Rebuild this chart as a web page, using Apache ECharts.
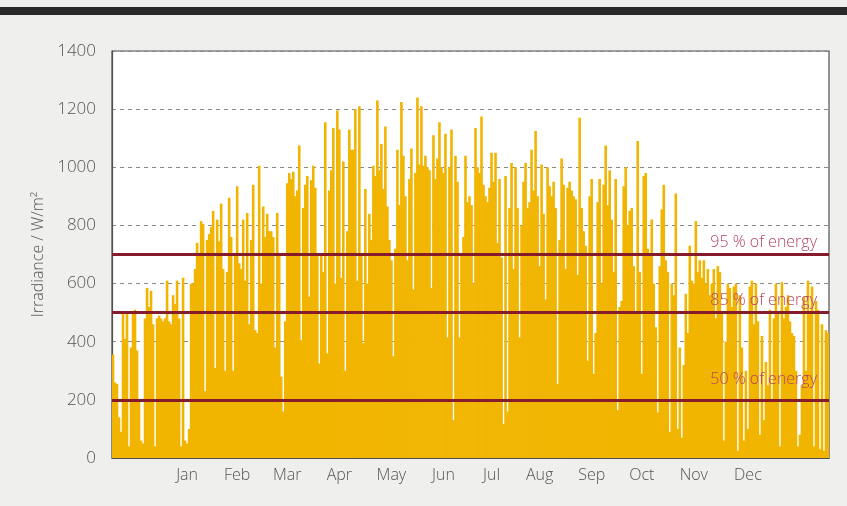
<!DOCTYPE html>
<html>
<head>
<meta charset="utf-8">
<script src="https://cdn.jsdelivr.net/npm/echarts@6/dist/echarts.min.js"></script>
<style>
html,body{margin:0;padding:0;background:#efefee;}
#chart{width:847px;height:506px;}
</style>
</head>
<body>
<div id="chart"></div>
<script>
// Irradiance values (W/m²), one bar per ~2 px column left to right
var irradiance = [
356,260,255,140,90,500,410,505,40,380,
505,510,370,200,60,50,480,585,520,575,
460,40,480,490,480,470,480,610,470,460,
560,530,610,480,40,620,60,50,100,600,
600,650,740,700,815,805,230,750,770,795,
850,310,820,745,875,650,300,640,895,760,
300,700,935,670,650,820,610,843,460,750,
940,440,430,1005,600,865,760,840,780,780,
760,380,843,700,280,160,470,945,980,960,
985,900,920,1075,405,860,940,970,555,955,
1005,930,700,325,700,640,1155,360,920,990,
1135,600,1195,1130,620,1020,300,780,1130,1060,
1060,1200,610,1210,700,395,925,600,840,750,
1005,970,1230,990,1080,925,1140,865,750,680,
350,720,1060,870,1225,1040,900,680,960,1065,
580,980,1240,1010,1210,1005,1040,1000,990,585,
1110,960,1030,1155,1000,980,1115,415,1000,1130,
130,1040,950,415,700,760,1040,880,900,870,
600,1135,1000,980,1175,940,900,880,930,1050,
950,1050,740,960,690,117,970,160,860,1015,
650,1000,860,415,800,950,1015,860,880,1060,
920,1125,900,660,1010,840,545,1000,935,900,
950,860,255,750,1030,940,650,930,950,920,
900,890,630,1170,860,780,730,335,900,960,
290,430,880,960,600,940,1075,870,990,820,
640,960,165,520,540,935,1000,800,850,860,
660,500,1090,640,290,970,980,720,700,820,
600,450,157,660,855,940,680,640,90,600,
560,910,100,380,70,320,565,430,730,610,
600,815,640,680,620,680,600,650,560,600,
650,480,660,640,500,60,400,600,585,520,
590,600,25,560,380,60,300,100,590,610,
460,600,470,80,420,130,330,250,510,200,
480,600,500,40,605,480,520,560,470,430,
420,300,40,80,250,555,300,610,500,590,
40,540,510,30,460,25,440,430
];
var months = ['Jan','Feb','Mar','Apr','May','Jun','Jul','Aug','Sep','Oct','Nov','Dec'];
var monthIndex = [37,62,87,113,139,165,189,213,239,264,290,317];
var energyLevels = [700, 500, 200];
var energyLabels = ['95 % of energy', '85 % of energy', '50 % of energy'];
var yTicks = [0,200,400,600,800,1000,1200,1400];

var categories = irradiance.map(function(_, i){
  var k = monthIndex.indexOf(i);
  return k >= 0 ? months[k] : String(i);
});
var labelDist = [[12,4],[12,4],[12,12]];

var chart = echarts.init(document.getElementById('chart'));
chart.setOption({
  animation: false,
  backgroundColor: '#efefee',
  textStyle: {fontFamily: 'Open Sans'},
  graphic: [{type:'rect', left:0, top:7, shape:{width:847, height:8}, style:{fill:'#2a2a2a'}}],
  grid: {left:112, right:18, top:51, bottom:48, show:true, backgroundColor:'#ffffff', borderColor:'#505050', borderWidth:1.2},
  xAxis: {
    type:'category', data: categories, boundaryGap:true,
    axisLine:{show:true, lineStyle:{color:'#505050', width:1.2}},
    axisTick:{show:false},
    axisLabel:{
      interval: function(i){ return monthIndex.indexOf(i) >= 0; },
      color:'#555', fontSize:16, fontFamily:'Open Sans', fontWeight:300, margin:9
    },
    splitLine:{show:false}
  },
  yAxis: {
    type:'value', min:yTicks[0], max:yTicks[yTicks.length-1], interval:200,
    name:'Irradiance / W/m²', nameLocation:'middle', nameGap:64,
    nameTextStyle:{color:'#555', fontSize:16, fontFamily:'Open Sans', fontWeight:300},
    axisLine:{show:true, lineStyle:{color:'#505050', width:1.2}},
    axisTick:{show:false},
    axisLabel:{color:'#555', fontSize:17, fontFamily:'Open Sans', fontWeight:300, margin:16,
      formatter: function(v){ return String(v); }},
    splitLine:{show:true, lineStyle:{color:'#8a8a8a', type:[4,4], width:1}}
  },
  series: [{
    type:'bar', data: irradiance, barWidth: 2.6, barGap:'-100%',
    itemStyle:{color:'#f1b500', borderWidth:0},
    markLine:{
      silent:true, symbol:['none','none'],
      lineStyle:{color:'#861b2b', width:3, type:'solid'},
      data: energyLevels.map(function(v, k){
        return {yAxis:v, label:{show:true, position:'insideEndTop', formatter: energyLabels[k],
          color:'#b5435f', fontSize:16, fontFamily:'Open Sans', fontWeight:300, distance: labelDist[k]}};
      })
    }
  }]
});
</script>
</body>
</html>
